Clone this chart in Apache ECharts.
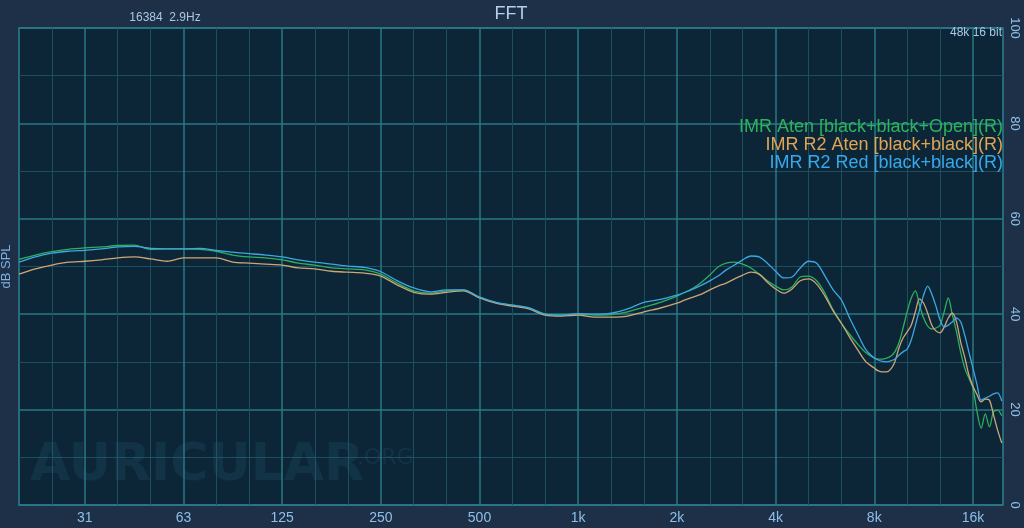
<!DOCTYPE html>
<html><head><meta charset="utf-8">
<script src="https://cdn.jsdelivr.net/npm/echarts@6/dist/echarts.min.js"></script>
<style>html,body{margin:0;padding:0;background:#1e3047;}#c{width:1024px;height:528px;}</style>
</head><body><div id="c"></div>
<script>
// Frequencies (Hz) shared by all three curves
const freqs = [19.7, 22.1, 24.8, 27.8, 31.25, 35.1, 39.4, 44.2, 49.6, 55.7, 62.5, 70.2, 78.7, 88.4, 99.2, 111, 125, 140, 157, 177, 198, 223, 250, 281, 315, 354, 397, 446, 500, 561, 630, 707, 794, 891, 1000, 1122, 1260, 1414, 1587, 1782,
  2000, 2119, 2245, 2378, 2520, 2670, 2828, 2997, 3175, 3364, 3564, 3776, 4000, 4238, 4490, 4757, 5040, 5339, 5657, 5993, 6350, 6727, 7127, 7551,
  8000, 8233, 8476, 8724, 8980, 9243, 9514, 9792, 10079, 10375, 10679, 10991, 11314, 11645, 11986, 12338, 12699, 13071, 13454, 13849, 14254, 14672, 15102, 15545, 16000, 16469, 16951, 17448, 17959, 18486, 19027, 19585];

const seriesNames = ['IMR Aten [black+black+Open](R)', 'IMR R2 Aten [black+black](R)', 'IMR R2 Red [black+black](R)'];

const greenDb = [51.5, 52.4, 53.1, 53.6, 53.9, 54.1, 54.4, 54.5, 53.6, 53.7, 53.7, 53.6, 53.2, 52.4, 52.0, 51.8, 51.4, 50.7, 50.3, 49.7, 49.5, 49.3, 48.4, 46.5, 44.9, 44.4, 44.9, 45.1, 43.6, 42.5, 41.9, 41.3, 40.0, 39.8, 40.0, 39.8, 39.9, 40.5, 41.5, 42.5,
  43.8, 44.6, 45.5, 46.7, 48.2, 49.9, 50.7, 50.9, 50.5, 49.7, 48.4, 47.0, 45.9, 45.1, 45.7, 47.8, 48.0, 47.0, 44.4, 40.9, 38.1, 35.8, 33.7, 31.9,
  30.8, 30.6, 30.6, 30.8, 31.2, 32.1, 34.0, 37.1, 40.5, 43.4, 44.9, 41.9, 39.2, 37.5, 36.9, 37.1, 37.7, 40.5, 43.4, 39.8, 36.3, 32.1, 28.7, 26.6, 24.5, 19.5, 16.1, 19.1, 16.4, 19.5, 19.9, 18.7];

const orangeDb = [48.4, 49.5, 50.3, 50.9, 51.1, 51.4, 51.8, 52.0, 51.6, 51.1, 51.8, 51.8, 51.8, 50.9, 50.7, 50.5, 50.3, 49.7, 49.5, 49.0, 48.8, 48.6, 48.0, 46.1, 44.6, 44.2, 44.6, 44.9, 43.4, 42.3, 41.7, 41.1, 39.8, 39.6, 39.8, 39.4, 39.4, 39.6, 40.5, 41.3,
  42.3, 43.0, 43.6, 44.2, 45.1, 45.9, 46.5, 47.4, 48.2, 48.8, 48.4, 46.7, 45.3, 44.4, 45.3, 47.0, 47.4, 46.3, 43.8, 40.7, 38.1, 35.2, 32.5, 30.0,
  28.7, 28.1, 27.9, 27.9, 28.5, 30.0, 32.9, 35.0, 36.3, 37.7, 40.5, 43.2, 42.3, 40.2, 37.7, 36.5, 36.1, 37.3, 39.2, 40.2, 38.4, 34.2, 31.0, 27.3, 24.9, 23.1, 21.6, 22.2, 22.0, 18.9, 15.7, 13.0];

const blueDb = [50.9, 52.0, 52.8, 53.2, 53.4, 53.7, 54.1, 54.2, 53.8, 53.7, 53.7, 53.8, 53.4, 53.0, 52.7, 52.4, 52.0, 51.4, 50.9, 50.5, 50.1, 49.8, 48.9, 47.0, 45.5, 44.7, 45.1, 45.1, 43.6, 42.5, 41.9, 41.3, 40.0, 39.8, 40.1, 40.0, 40.2, 41.1, 42.5, 43.1,
  44.0, 44.6, 45.3, 46.1, 47.0, 48.0, 49.3, 50.3, 51.4, 52.2, 52.0, 50.7, 49.0, 47.6, 47.8, 49.7, 51.1, 50.7, 48.0, 45.1, 43.0, 39.2, 35.8, 32.5,
  30.8, 30.4, 30.1, 30.0, 30.2, 30.6, 31.4, 32.1, 32.7, 34.6, 37.7, 40.9, 44.0, 45.9, 44.2, 41.7, 38.8, 37.3, 37.7, 38.4, 39.2, 38.4, 35.6, 32.1, 28.7, 25.2, 22.0, 22.4, 22.8, 23.3, 23.5, 21.8];

const octaveTicks = [31.25, 62.5, 125, 250, 500, 1000, 2000, 4000, 8000, 16000];
const octaveLabels = ['31', '63', '125', '250', '500', '1k', '2k', '4k', '8k', '16k'];
const thirdTicks = [24.80, 39.37, 49.61, 78.75, 99.21, 157.5, 198.4, 315.0, 396.9, 630.0, 793.7, 1259.9, 1587.4, 2519.8, 3174.8, 5039.7, 6349.6, 10079, 12699];
const yTicks = [0, 20, 40, 60, 80, 100];

const colors = { green: '#2fae5e', orange: '#cfa675', blue: '#3ea6e2' };
const legendColors = ['#2db35c', '#e0a455', '#38a8ea'];

const chart = echarts.init(document.getElementById('c'), null, { renderer: 'canvas' });
const FONT = 'Liberation Sans, Arial, sans-serif';
const majorGrid = '#2a7886';
const minorGrid = '#1b4e5e';
const labelColor = '#8fbfe8';

function octLabel(v) {
  for (let i = 0; i < octaveTicks.length; i++) {
    if (Math.abs(Math.log2(v / octaveTicks[i])) < 0.02) return octaveLabels[i];
  }
  return '';
}

const xBase = { type: 'log', logBase: 2, min: 19.69, max: 19760, gridIndex: 0 };

chart.setOption({
  animation: false,
  backgroundColor: '#1e3047',
  textStyle: { fontFamily: FONT },
  grid: { left: 19, right: 21, top: 28, bottom: 23, outerBoundsMode: 'none', containLabel: false, show: true, backgroundColor: '#0c2638', borderColor: '#2b808e', borderWidth: 1.5 },
  legend: {
    orient: 'vertical', right: 16, top: 118, align: 'right', icon: 'none', itemWidth: 0, itemHeight: 18, itemGap: 0, padding: 0,
    selectedMode: false,
    textStyle: { fontSize: 18, fontFamily: FONT, lineHeight: 18 },
    data: seriesNames.map((n, i) => ({ name: n, textStyle: { color: legendColors[i] } }))
  },
  xAxis: [
    Object.assign({}, xBase, {
      position: 'bottom',
      axisLine: { show: false },
      axisTick: { show: false, customValues: octaveTicks },
      axisLabel: { customValues: octaveTicks, formatter: octLabel, color: labelColor, fontSize: 14, margin: 6, fontFamily: FONT },
      splitLine: { show: true, lineStyle: { color: majorGrid, width: 1.5 } }
    }),
    Object.assign({}, xBase, {
      position: 'top',
      axisLine: { show: false },
      axisTick: { show: false, customValues: thirdTicks },
      axisLabel: { show: false },
      splitLine: { show: true, lineStyle: { color: minorGrid, width: 1 } }
    })
  ],
  yAxis: [
    {
      type: 'value', min: 0, max: 100, interval: 20, position: 'left',
      name: 'dB SPL', nameLocation: 'middle', nameRotate: 90, nameGap: 6,
      nameTextStyle: { color: '#7fb2e0', fontSize: 13, fontFamily: FONT },
      axisLine: { show: false }, axisTick: { show: false }, axisLabel: { show: false },
      splitLine: { show: true, lineStyle: { color: majorGrid, width: 1.5 } },
      minorTick: { show: false, splitNumber: 2 },
      minorSplitLine: { show: true, lineStyle: { color: minorGrid, width: 1 } }
    },
    {
      type: 'value', min: 0, max: 100, interval: 20, position: 'right',
      axisLine: { show: false }, axisTick: { show: false },
      axisLabel: { show: true, rotate: -90, color: labelColor, fontSize: 13, margin: 5, fontFamily: FONT,
        formatter: v => yTicks.indexOf(v) >= 0 ? String(v) : '' },
      splitLine: { show: false }
    }
  ],
  series: [
    { name: seriesNames[0], type: 'line', xAxisIndex: 0, yAxisIndex: 0, showSymbol: false, smooth: 0.3,
      lineStyle: { color: colors.green, width: 1.3 }, itemStyle: { color: colors.green },
      data: freqs.map((f, i) => [f, greenDb[i]]) },
    { name: seriesNames[1], type: 'line', xAxisIndex: 0, yAxisIndex: 0, showSymbol: false, smooth: 0.3,
      lineStyle: { color: colors.orange, width: 1.3 }, itemStyle: { color: colors.orange },
      data: freqs.map((f, i) => [f, orangeDb[i]]) },
    { name: seriesNames[2], type: 'line', xAxisIndex: 0, yAxisIndex: 0, showSymbol: false, smooth: 0.3,
      lineStyle: { color: colors.blue, width: 1.3 }, itemStyle: { color: colors.blue },
      data: freqs.map((f, i) => [f, blueDb[i]]) }
  ],
  graphic: [
    { type: 'text', x: 511, y: 14, style: { text: 'FFT', fill: '#b3d0ec', font: '18px ' + FONT, align: 'center', verticalAlign: 'middle', textAlign: 'center', textVerticalAlign: 'middle' } },
    { type: 'text', x: 165, y: 18, style: { text: '16384  2.9Hz', fill: '#a9c6e6', font: '12px ' + FONT, align: 'center', verticalAlign: 'middle', textAlign: 'center', textVerticalAlign: 'middle' } },
    { type: 'text', x: 1002, y: 33, z: 10, style: { text: '48k 16 bit', fill: '#a9c9ea', font: '12px ' + FONT, align: 'right', verticalAlign: 'middle', textAlign: 'right', textVerticalAlign: 'middle' } },
    { type: 'text', x: 30, y: 466, z: 10, style: { text: 'AURICULAR', fill: 'rgba(50,130,150,0.15)', font: '900 52px DejaVu Sans', align: 'left', verticalAlign: 'middle', textAlign: 'left', textVerticalAlign: 'middle' } },
    { type: 'text', x: 357, y: 458, z: 10, style: { text: '.ORG', fill: 'rgba(50,130,150,0.15)', font: '22px DejaVu Sans', align: 'left', verticalAlign: 'middle', textAlign: 'left', textVerticalAlign: 'middle' } }
  ]
});
</script>
</body></html>
